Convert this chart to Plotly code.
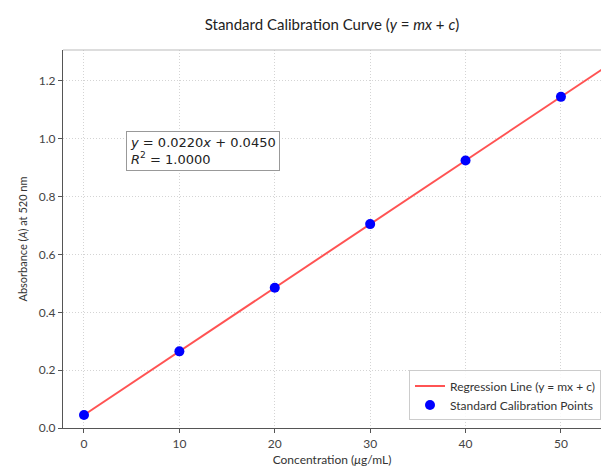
import plotly.graph_objects as go

conc = [0, 10, 20, 30, 40, 50]
absorb = [0.045, 0.265, 0.485, 0.705, 0.925, 1.145]
slope = 0.0220
intercept = 0.0450
r2 = 1.0
fit_x = [0, 60]
fit_y = [slope * v + intercept for v in fit_x]
xticks = [0, 10, 20, 30, 40, 50]
yticks = [0.0, 0.2, 0.4, 0.6, 0.8, 1.0, 1.2]

font_main = "Lato, Inter, sans-serif"

fig = go.Figure()
fig.add_trace(go.Scatter(x=fit_x, y=fit_y, mode="lines",
                         line=dict(color="rgba(255,40,40,0.8)", width=2),
                         name="Regression Line (y = mx + c)"))
fig.add_trace(go.Scatter(x=conc, y=absorb, mode="markers",
                         marker=dict(color="#0000ff", size=10),
                         name="Standard Calibration Points"))

fig.update_layout(
    width=601, height=472,
    margin=dict(l=63, r=0, t=50, b=44),
    plot_bgcolor="white", paper_bgcolor="white",
    font=dict(family=font_main, color="#333", size=12),
    title=dict(text="Standard Calibration Curve (<i>y</i> = <i>mx</i> + <i>c</i>)",
               x=(63 + 601) / 2 / 601, xanchor="center", y=1 - 25 / 472, yanchor="middle",
               font=dict(size=15, color="#222", family=font_main)),
    showlegend=True,
    legend=dict(x=1.0, xanchor="right", y=0.02, yanchor="bottom",
                bgcolor="rgba(255,255,255,0.85)", bordercolor="#ccc", borderwidth=1,
                font=dict(size=12, color="#333", family=font_main),
                tracegroupgap=0, itemwidth=30),
)
grid_dash = "1px,2px"
fig.update_xaxes(range=[-2.2, 54.2], tickvals=xticks, ticktext=[str(v) for v in xticks],
                 showgrid=True, gridcolor="#d4d4d4", griddash=grid_dash, gridwidth=1,
                 showline=True, linecolor="#555", linewidth=1.2,
                 ticks="outside", ticklen=4, tickcolor="#555",
                 zeroline=False, tickfont=dict(color="#444"),
                 title=dict(text="Concentration (<i>μ</i>g/mL)", font=dict(size=12, color="#333"), standoff=6))
fig.update_yaxes(range=[0, 1.307], tickvals=yticks, ticktext=[f"{v:.1f}" for v in yticks],
                 showgrid=True, gridcolor="#d4d4d4", griddash=grid_dash, gridwidth=1,
                 showline=True, linecolor="#555", linewidth=1.2,
                 ticks="outside", ticklen=4, tickcolor="#555",
                 zeroline=False, tickfont=dict(color="#444"),
                 title=dict(text="Absorbance (<i>A</i>) at 520 nm", font=dict(size=11, color="#333"), standoff=8))
fig.add_shape(type="line", xref="paper", yref="paper", x0=0, x1=1, y0=1, y1=1,
              line=dict(color="#bbb", width=1))
fig.add_annotation(xref="paper", yref="paper", x=(126 - 63) / 538, y=(428 - 131) / 378,
                   xanchor="left", yanchor="top", align="left", showarrow=False,
                   text=f"<i>y</i> = {slope:.4f}<i>x</i> + {intercept:.4f}<br><i>R</i><sup>2</sup> = {r2:.4f}",
                   font=dict(family="DejaVu Sans", size=13, color="#222"),
                   bgcolor="white", bordercolor="#999", borderwidth=1, borderpad=3)

fig.write_html("out.html")
